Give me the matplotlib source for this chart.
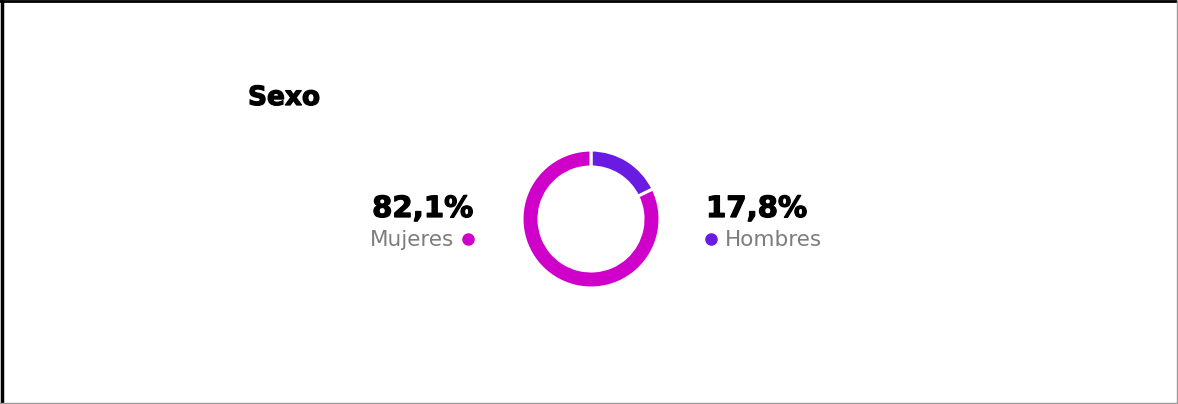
#!/usr/bin/env python3

# Imports
import matplotlib
matplotlib.use('Agg')
import matplotlib.pyplot as plt
import matplotlib.patheffects as pe
from matplotlib.lines import Line2D

# Data
categories = ['Hombres', 'Mujeres']
shares = [17.8, 82.1]
colors = ['#6a1be2', '#cf00c9']

W, H = 1178, 404
plt.rcParams['font.family'] = ['DejaVu Sans']


def px(x, y):
    # pixel position from the top-left corner -> figure fraction
    return x / W, 1 - y / H


def pct(v):
    return f'{v:.1f}'.replace('.', ',') + '%'


# heavier look for the bold texts
heavy = [pe.withStroke(linewidth=0.9, foreground='black')]

fig = plt.figure(figsize=(W / 100, H / 100), dpi=100, facecolor='white')

# Donut in its own square axes
cx, cy, r = 591, 219, 69
half = 76
ax = fig.add_axes([(cx - half) / W, (H - cy - half) / H, 2 * half / W, 2 * half / H])
ax.pie(shares, colors=colors, startangle=90, counterclock=False, radius=1,
       wedgeprops=dict(width=17 / r, edgecolor='white', linewidth=2.2))
ax.set_xlim(-half / r, half / r)
ax.set_ylim(-half / r, half / r)
ax.set_aspect('equal')
ax.axis('off')

# Title
fig.text(*px(248, 105), 'Sexo', fontsize=19, fontweight='bold', color='black',
         ha='left', va='baseline', path_effects=heavy)

# Mujeres block (left of the ring)
fig.text(*px(473, 217), pct(shares[1]), fontsize=21, fontweight='bold',
         color='black', ha='right', va='baseline', path_effects=heavy)
fig.text(*px(454, 246), categories[1], fontsize=15.5, color='#7d7d7d',
         ha='right', va='baseline')
fig.add_artist(Line2D([468 / W], [1 - 239 / H], marker='o', markersize=8,
                      color=colors[1], linestyle='none'))

# Hombres block (right of the ring)
fig.text(*px(706, 217), pct(shares[0]), fontsize=21, fontweight='bold',
         color='black', ha='left', va='baseline', path_effects=heavy)
fig.text(*px(725, 246), categories[0], fontsize=15.5, color='#7d7d7d',
         ha='left', va='baseline')
fig.add_artist(Line2D([711 / W], [1 - 239 / H], marker='o', markersize=8,
                      color=colors[0], linestyle='none'))

# Frame around the card
fig.add_artist(Line2D([1.5 / W, 1.5 / W], [0, 1], color='black', linewidth=2.5))
fig.add_artist(Line2D([0, 1], [1 - 1 / H, 1 - 1 / H], color='black', linewidth=2))
fig.add_artist(Line2D([1 - 1.5 / W, 1 - 1.5 / W], [0, 1], color='#9a9a9a', linewidth=1))
fig.add_artist(Line2D([0, 1], [1.5 / H, 1.5 / H], color='#9a9a9a', linewidth=1))

fig.savefig('out.png', dpi=100, facecolor='white')
